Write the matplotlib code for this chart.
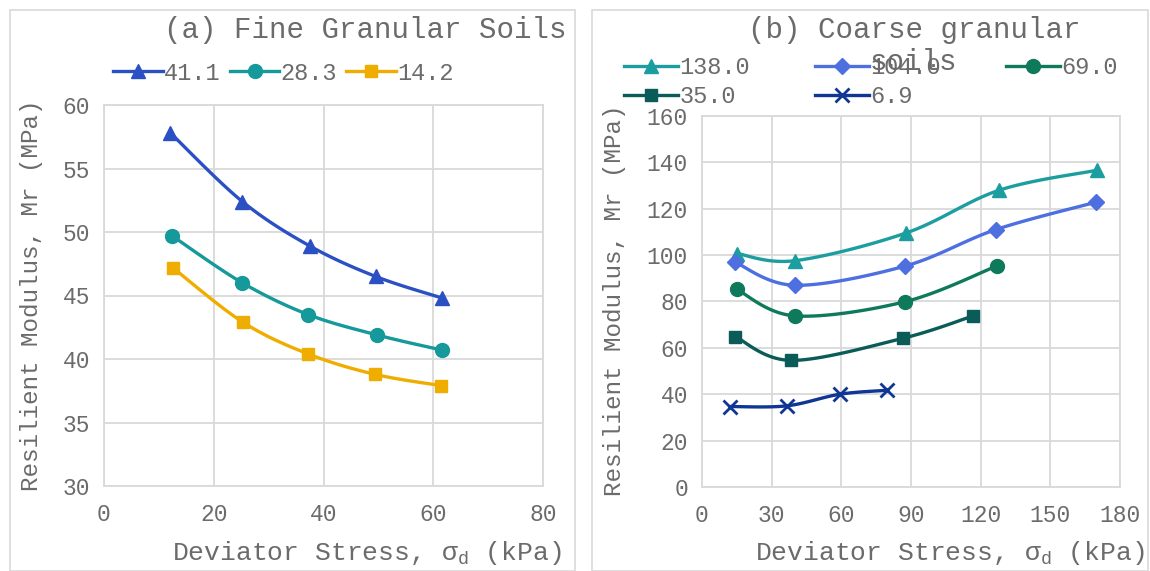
import numpy as np
import matplotlib
matplotlib.use('Agg')
import matplotlib.pyplot as plt
from matplotlib.patches import Rectangle

plt.rcParams['font.family'] = ['Liberation Mono', 'DejaVu Sans']
plt.rcParams['mathtext.fontset'] = 'custom'
plt.rcParams['mathtext.rm'] = 'Liberation Mono'
plt.rcParams['mathtext.it'] = 'Liberation Mono'

# (a) fine granular soils, confining stress series
fine_labels = ['41.1', '28.3', '14.2']
fine_x = [[12.1, 25.2, 37.5, 49.5, 61.6],
          [12.4, 25.2, 37.2, 49.7, 61.6],
          [12.5, 25.3, 37.2, 49.3, 61.5]]
fine_y = [[57.8, 52.4, 48.9, 46.5, 44.8],
          [49.7, 46.0, 43.5, 41.9, 40.7],
          [47.2, 42.9, 40.4, 38.8, 37.9]]

# (b) coarse granular soils
coarse_labels = ['138.0', '104.0', '69.0', '35.0', '6.9']
coarse_x = [[15.0, 40.0, 88.0, 128.0, 170.0],
            [14.0, 40.0, 87.5, 126.5, 169.5],
            [15.0, 40.0, 87.4, 126.9],
            [14.4, 38.5, 86.4, 116.8],
            [12.1, 36.5, 59.3, 79.5]]
coarse_y = [[100.7, 97.6, 109.6, 128.0, 136.6],
            [97.1, 87.0, 95.3, 111.0, 122.8],
            [85.2, 73.8, 79.9, 95.3],
            [64.8, 54.6, 64.1, 73.8],
            [34.7, 35.0, 40.0, 41.7]]

TXT = '#6b6b6b'
GRID = '#d9d9d9'
FS = 16.5


def smooth(xs, ys, n=20):
    # Bezier smoothing through the points, like Excel's "smoothed line"
    p = np.column_stack([xs, ys]).astype(float)
    out = [p[0]]
    for i in range(len(p) - 1):
        p0 = p[i - 1] if i > 0 else p[i]
        p3 = p[i + 2] if i + 2 < len(p) else p[i + 1]
        c1 = p[i] + (p[i + 1] - p0) / 6
        c2 = p[i + 1] - (p3 - p[i]) / 6
        t = np.linspace(0, 1, n + 1)[1:, None]
        seg = ((1 - t) ** 3 * p[i] + 3 * (1 - t) ** 2 * t * c1
               + 3 * (1 - t) * t ** 2 * c2 + t ** 3 * p[i + 1])
        out.extend(seg)
    out = np.array(out)
    return out[:, 0], out[:, 1], list(range(0, len(out), n))


def draw(ax, xs, ys, color, marker, ms, label, mew=1.0):
    sx, sy, idx = smooth(xs, ys)
    line, = ax.plot(sx, sy, color=color, lw=2.4, marker=marker, ms=ms,
                    markevery=idx, mfc=color, mec=color, mew=mew,
                    label=label)
    return line


def style(ax, xlim, xticks, ylim, yticks):
    ax.set_xlim(*xlim)
    ax.set_ylim(*ylim)
    ax.set_xticks(xticks)
    ax.set_yticks(yticks)
    ax.grid(True, color=GRID, lw=1.3)
    ax.set_axisbelow(True)
    for s in ax.spines.values():
        s.set_color(GRID)
        s.set_linewidth(1.3)
    ax.tick_params(length=0, labelsize=FS, labelcolor=TXT)
    ax.tick_params(axis='x', pad=12)
    ax.tick_params(axis='y', pad=10)


fig = plt.figure(figsize=(11.5, 5.71), dpi=100)

# chart area borders
for x0, x1 in [(10, 575), (592, 1148)]:
    fig.patches.append(Rectangle((x0 / 1150, 0.0), (x1 - x0) / 1150, 1 - 10 / 571,
                                 transform=fig.transFigure, fill=False,
                                 edgecolor=GRID, lw=1.2))

# ---- (a)
ax1 = fig.add_axes([104 / 1150, 1 - 486 / 571, 439 / 1150, 381 / 571])
fine_colors = ['#2b50c4', '#15999a', '#efad00']
fine_markers = ['^', 'o', 's']
fine_ms = [10, 10, 9]
h1 = []
for i in range(3):
    h1.append(draw(ax1, fine_x[i], fine_y[i], fine_colors[i], fine_markers[i],
                   fine_ms[i], fine_labels[i]))
style(ax1, (0, 80), np.arange(0, 81, 20), (30, 60), np.arange(30, 61, 5))

fig.text(365 / 1150, 1 - 30 / 571, '(a) Fine Granular Soils', ha='center',
         va='center', fontsize=21, color=TXT)
fig.text(32 / 1150, 1 - 295 / 571, 'Resilient Modulus, Mr (MPa)', rotation=90,
         ha='center', va='center', fontsize=17.5, color=TXT)
fig.text(367 / 1150, 1 - 553 / 571, r'Deviator Stress, σ$_\mathrm{d}$ (kPa)',
         ha='center', va='center', fontsize=19, color=TXT)
fig.legend(handles=h1, loc='center left', bbox_to_anchor=(113 / 1150, 1 - 73 / 571),
           ncol=3, frameon=False, fontsize=17, handlelength=2.1,
           handletextpad=0.05, columnspacing=0.4, borderpad=0, borderaxespad=0,
           labelcolor=TXT)

# ---- (b)
ax2 = fig.add_axes([702 / 1150, 1 - 487 / 571, 418 / 1150, 371 / 571])
coarse_colors = ['#1c9ea0', '#4d6fe0', '#0f7a5b', '#0b5b58', '#0f3595']
coarse_markers = ['^', 'D', 'o', 's', 'x']
coarse_ms = [10, 8, 10, 9, 10]
h2 = []
for i in range(5):
    h2.append(draw(ax2, coarse_x[i], coarse_y[i], coarse_colors[i],
                   coarse_markers[i], coarse_ms[i], coarse_labels[i],
                   mew=2.0 if coarse_markers[i] == 'x' else 1.0))
style(ax2, (0, 180), np.arange(0, 181, 30), (0, 160), np.arange(0, 161, 20))

# the title wraps onto a second line in the original
fig.text(914 / 1150, 1 - 30 / 571, '(b) Coarse granular', ha='center',
         va='center', fontsize=21, color=TXT)
fig.text(913 / 1150, 1 - 62 / 571, 'soils', ha='center',
         va='center', fontsize=21, color=TXT)
fig.text(614 / 1150, 1 - 300 / 571, 'Resilient Modulus, Mr (MPa)', rotation=90,
         ha='center', va='center', fontsize=17.5, color=TXT)
fig.text(950 / 1150, 1 - 553 / 571, r'Deviator Stress, σ$_\mathrm{d}$ (kPa)',
         ha='center', va='center', fontsize=19, color=TXT)
order = [0, 3, 1, 4, 2]
fig.legend(handles=[h2[k] for k in order], loc='center left',
           bbox_to_anchor=(624 / 1150, 1 - 82 / 571), ncol=3, frameon=False,
           fontsize=17, handlelength=2.3, handletextpad=0.05, columnspacing=2.75,
           labelspacing=0.25, borderpad=0, borderaxespad=0, labelcolor=TXT)

fig.savefig('out.png', dpi=100)
